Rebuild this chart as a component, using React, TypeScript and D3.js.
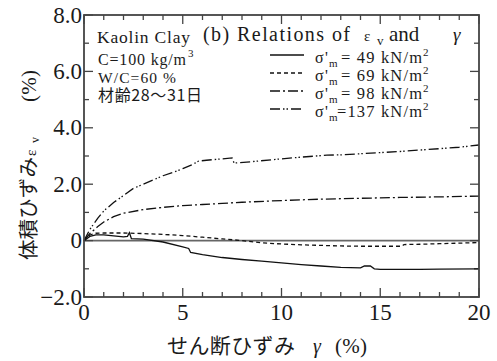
import React from "react";
import * as d3 from "d3";

// gamma (%) , eps_v (%)
const s49: [number, number][] = [
  [0, 0], [0.3, 0.15], [0.6, 0.2], [1, 0.2], [1.5, 0.17], [2.0, 0.13], [2.2, 0.15],
  [2.3, 0.28], [2.4, 0.07], [3, 0.05], [4, -0.05], [5, -0.22], [5.3, -0.28],
  [5.4, -0.42], [6, -0.5], [7, -0.6], [8, -0.67], [9, -0.73], [10, -0.79],
  [11, -0.85], [12, -0.9], [13, -0.95], [14, -0.97], [14.2, -0.9], [14.5, -0.9],
  [14.7, -1.0], [15, -1.02], [16, -1.02], [17, -1.02], [18, -1.01], [20, -1.0],
];
const s69: [number, number][] = [
  [0, 0], [0.3, 0.2], [0.6, 0.26], [1, 0.27], [2, 0.27], [3, 0.25], [4, 0.22],
  [5, 0.18], [6, 0.12], [7, 0.06], [8, 0.0], [9, -0.08], [10, -0.12], [11, -0.15],
  [12, -0.17], [13, -0.19], [14, -0.2], [15, -0.2], [16.1, -0.2], [16.2, -0.14],
  [17, -0.13], [18, -0.11], [19, -0.09], [20, -0.07],
];
const s98: [number, number][] = [
  [0, 0], [0.3, 0.25], [0.7, 0.5], [1.0, 0.66], [1.5, 0.85], [2, 0.97], [3, 1.1],
  [4, 1.18], [5, 1.24], [6, 1.28], [7, 1.32], [8, 1.36], [10, 1.42], [12, 1.47],
  [14, 1.5], [16, 1.53], [18, 1.55], [20, 1.58],
];
const s137: [number, number][] = [
  [0, 0], [0.3, 0.4], [0.7, 0.8], [1.0, 1.05], [1.5, 1.35], [2.0, 1.6], [2.5, 1.85],
  [3.0, 2.0], [3.5, 2.15], [4.0, 2.3], [4.5, 2.42], [5.0, 2.55], [5.5, 2.7],
  [5.8, 2.82], [6.2, 2.85], [7.0, 2.9], [7.5, 2.93], [7.6, 2.75], [8.5, 2.8],
  [10, 2.9], [11, 2.96], [12.3, 3.03], [13, 3.04], [14, 3.08], [15, 3.12],
  [16, 3.16], [17, 3.21], [18, 3.26], [19, 3.31], [20, 3.39],
];

const seriesLabels = ["= 49 kN/m", "= 69 kN/m", "= 98 kN/m", "=137 kN/m"];
const dashes = ["", "4,3", "10,3,2,3", "10,3,1.5,2,1.5,3"];
const xTickLabels = [0, 5, 10, 15, 20];
const yTickLabels = [8, 6, 4, 2, 0, -2];
const infoLines = ["Kaolin Clay", "C=100 kg/m", "W/C=60 %", "材齢28～31日"];

const W = 497;
const H = 361;
const m = { left: 84, right: 479, top: 15, bottom: 297 };
const serif = "Liberation Serif, Noto Sans CJK JP, serif";
const cjk = "Noto Sans CJK JP, sans-serif";

export default function App() {
  const x = d3.scaleLinear().domain([0, 20]).range([m.left, m.right]);
  const y = d3.scaleLinear().domain([-2, 8]).range([m.bottom, m.top]);
  const line = d3
    .line<[number, number]>()
    .x((d) => x(d[0]))
    .y((d) => y(d[1]));
  const all = [s49, s69, s98, s137];
  const axisCol = "#444";
  const txt = "#1a1a1a";

  const xMinor = d3.range(0, 21, 1);
  const yMinor = d3.range(-2, 9, 1);

  return (
    <svg
      width={W}
      height={H}
      style={{ position: "absolute", left: 0, top: 0, background: "#fff" }}
      fontFamily={serif}
    >
      {/* zero line */}
      <line x1={x(0)} x2={x(20)} y1={y(0)} y2={y(0)} stroke="#666" strokeWidth={1.6} />

      {/* ticks */}
      {xMinor.map((v) => {
        const len = v % 5 === 0 ? 9 : 5;
        return (
          <g key={"xt" + v} stroke={axisCol} strokeWidth={1.3}>
            <line x1={x(v)} x2={x(v)} y1={m.bottom} y2={m.bottom - len} />
            <line x1={x(v)} x2={x(v)} y1={m.top} y2={m.top + len} />
          </g>
        );
      })}
      {yMinor.map((v) => {
        const len = v % 2 === 0 ? 9 : 5;
        return (
          <g key={"yt" + v} stroke={axisCol} strokeWidth={1.3}>
            <line x1={m.left} x2={m.left + len} y1={y(v)} y2={y(v)} />
            <line x1={m.right} x2={m.right - len} y1={y(v)} y2={y(v)} />
          </g>
        );
      })}

      {/* series */}
      {all.map((s, i) => (
        <path
          key={"s" + i}
          d={line(s) || ""}
          fill="none"
          stroke="#111"
          strokeWidth={1.3}
          strokeDasharray={dashes[i]}
        />
      ))}

      {/* frame */}
      <rect
        x={m.left}
        y={m.top}
        width={m.right - m.left}
        height={m.bottom - m.top}
        fill="none"
        stroke={axisCol}
        strokeWidth={1.8}
      />

      {/* tick labels */}
      {yTickLabels.map((v) => (
        <text key={"yl" + v} x={m.left - 2} y={y(v) + 7.5} textAnchor="end" fontSize={23} fill={txt}>
          {v === 0 ? "0" : d3.format(".1f")(v)}
        </text>
      ))}
      {xTickLabels.map((v) => (
        <text key={"xl" + v} x={x(v)} y={320} textAnchor="middle" fontSize={23} fill={txt}>
          {v}
        </text>
      ))}

      {/* x axis title */}
      <text x={167} y={353} fontSize={21} fill={txt} fontFamily={cjk} textLength={128}>
        せん断ひずみ
      </text>
      <text x={313} y={353} fontSize={20} fill={txt} fontStyle="italic">γ</text>
      <text x={335} y={353} fontSize={21} fill={txt} textLength={32}>(%)</text>

      {/* y axis title (rotated) */}
      <g transform="translate(36,260) rotate(-90)" fill={txt}>
        <text x={0} y={0} fontSize={20.5} fontFamily={cjk} textLength={103}>体積ひずみ</text>
        <text x={104} y={0} fontSize={15}>ε</text>
        <text x={117} y={3} fontSize={12}>v</text>
        <text x={158} y={0} fontSize={21} textLength={32}>(%)</text>
      </g>

      {/* info text */}
      <text x={97} y={43} fontSize={17.5} fill={txt} textLength={93}>{infoLines[0]}</text>
      <text x={98} y={65} fontSize={16} fill={txt} textLength={88}>{infoLines[1]}</text>
      <text x={188} y={57} fontSize={11} fill={txt}>3</text>
      <text x={98} y={83} fontSize={15.5} fill={txt} textLength={78}>{infoLines[2]}</text>
      <text x={98} y={101} fontSize={16} fill={txt} fontFamily={cjk} textLength={104}>{infoLines[3]}</text>

      {/* title */}
      <text x={203} y={41} fontSize={20} fill={txt} textLength={147}>(b) Relations of</text>
      <text x={364} y={41} fontSize={15} fill={txt}>ε</text>
      <text x={377} y={45} fontSize={13} fill={txt}>v</text>
      <text x={389} y={41} fontSize={21} fill={txt}>and</text>
      <text x={453} y={41} fontSize={19} fill={txt} fontStyle="italic">γ</text>

      {/* legend */}
      {seriesLabels.map((lab, i) => {
        const by = 63 + i * 18;
        const start = i === 3 ? 337 : 341;
        return (
          <g key={"lg" + i} fill={txt}>
            <line
              x1={270}
              x2={304}
              y1={by - 8}
              y2={by - 8}
              stroke="#111"
              strokeWidth={1.3}
              strokeDasharray={dashes[i]}
            />
            <text x={315} y={by} fontSize={16}>σ</text>
            <text x={325} y={by} fontSize={16}>'</text>
            <text x={329} y={by + 4} fontSize={11}>m</text>
            <text x={start} y={by} fontSize={16.5} textLength={422 - start}>{lab}</text>
            <text x={423} y={by - 7} fontSize={11}>2</text>
          </g>
        );
      })}
    </svg>
  );
}
